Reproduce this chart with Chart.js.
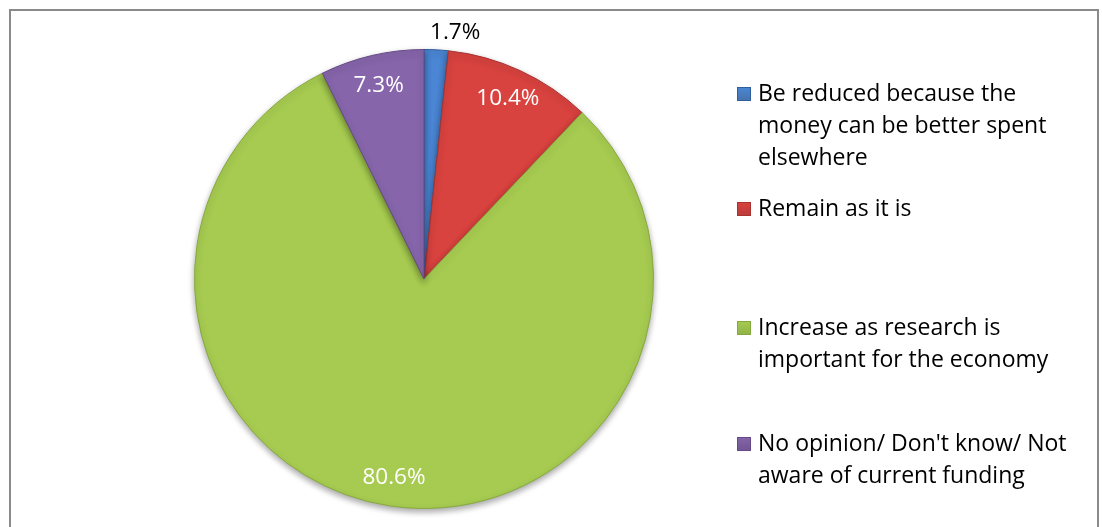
<!DOCTYPE html>
<html>
<head>
<meta charset="utf-8">
<script src="https://cdn.jsdelivr.net/npm/chart.js@4.4.1/dist/chart.umd.min.js"></script>
<style>
  html, body { margin: 0; padding: 0; background: #fff; }
  #wrap { position: relative; width: 1102px; height: 527px; overflow: hidden; }
  #frame {
    position: absolute; left: 9px; top: 9px; width: 1090px; height: 600px;
    border: 2px solid #8a8a8a; box-sizing: border-box;
  }
  canvas { position: absolute; left: 0; top: 0; }
</style>
</head>
<body>
<div id="wrap">
  <div id="frame"></div>
  <canvas id="pie" width="1102" height="527"></canvas>
</div>
<script>
const categories = [
  ["Be reduced because the", "money can be better spent", "elsewhere"],
  ["Remain as it is"],
  ["Increase as research is", "important for the economy"],
  ["No opinion/ Don't know/ Not", "aware of current funding"],
];
const shares = [1.7, 10.4, 80.6, 7.3];
const sliceColors = ["#4a86d4", "#d8423f", "#a6cb50", "#8665aa"];
const edgeColors = ["#2f5f9c", "#a83230", "#86a93e", "#654a87"];
const markerColors = ["#4672aa", "#b93c3a", "#8db046", "#6f5492"];

const FONT = "'Open Sans', sans-serif";

// percentage text on or just outside each slice
const sliceLabels = {
  id: "sliceLabels",
  afterDatasetsDraw(chart) {
    const ctx = chart.ctx;
    const meta = chart.getDatasetMeta(0);
    ctx.save();
    ctx.font = "22.5px " + FONT;
    ctx.textAlign = "center";
    ctx.textBaseline = "middle";
    meta.data.forEach((arc, i) => {
      const mid = (arc.startAngle + arc.endAngle) / 2;
      const small = shares[i] < 5;
      const r = small ? arc.outerRadius + 18 : arc.outerRadius * 0.87;
      const x = arc.x + Math.cos(mid) * r + (small ? 18 : 0);
      const y = arc.y + Math.sin(mid) * r + 1;
      ctx.fillStyle = small ? "#000" : "#fff";
      ctx.fillText(shares[i].toFixed(1) + "%", x, y);
    });
    ctx.restore();
  },
};

// legend on the right with wrapped entries
const sideLegend = {
  id: "sideLegend",
  afterDraw(chart) {
    const ctx = chart.ctx;
    const rowTops = [94, 209, 328, 444];
    const lineH = 32;
    ctx.save();
    ctx.font = "23px " + FONT;
    ctx.textBaseline = "middle";
    ctx.textAlign = "left";
    categories.forEach((lines, i) => {
      const y0 = rowTops[i];
      const g = ctx.createLinearGradient(0, y0 - 7, 0, y0 + 8);
      g.addColorStop(0, sliceColors[i]);
      g.addColorStop(1, markerColors[i]);
      ctx.fillStyle = g;
      ctx.fillRect(737, y0 - 7, 14, 14);
      ctx.strokeStyle = edgeColors[i];
      ctx.lineWidth = 1;
      ctx.strokeRect(737.5, y0 - 6.5, 13, 13);
      ctx.fillStyle = "#000";
      lines.forEach((t, k) => ctx.fillText(t, 758, y0 + k * lineH));
    });
    ctx.restore();
  },
};

// soft drop shadow under the pie
const pieShadow = {
  id: "pieShadow",
  beforeDatasetsDraw(chart) {
    const ctx = chart.ctx;
    ctx.save();
    ctx.shadowColor = "rgba(0,0,0,0.35)";
    ctx.shadowBlur = 6;
    ctx.shadowOffsetY = 3;
  },
  afterDatasetsDraw(chart) {
    chart.ctx.restore();
  },
};

new Chart(document.getElementById("pie").getContext("2d"), {
  type: "pie",
  data: {
    labels: categories.map((l) => l.join(" ")),
    datasets: [{
      data: shares,
      backgroundColor: sliceColors,
      borderColor: edgeColors,
      borderWidth: 1,
    }],
  },
  options: {
    responsive: false,
    animation: false,
    layout: { padding: { left: 193, right: 447, top: 49, bottom: 18 } },
    plugins: {
      legend: { display: false },
      tooltip: { enabled: false },
    },
  },
  plugins: [pieShadow, sliceLabels, sideLegend],
});
</script>
</body>
</html>
